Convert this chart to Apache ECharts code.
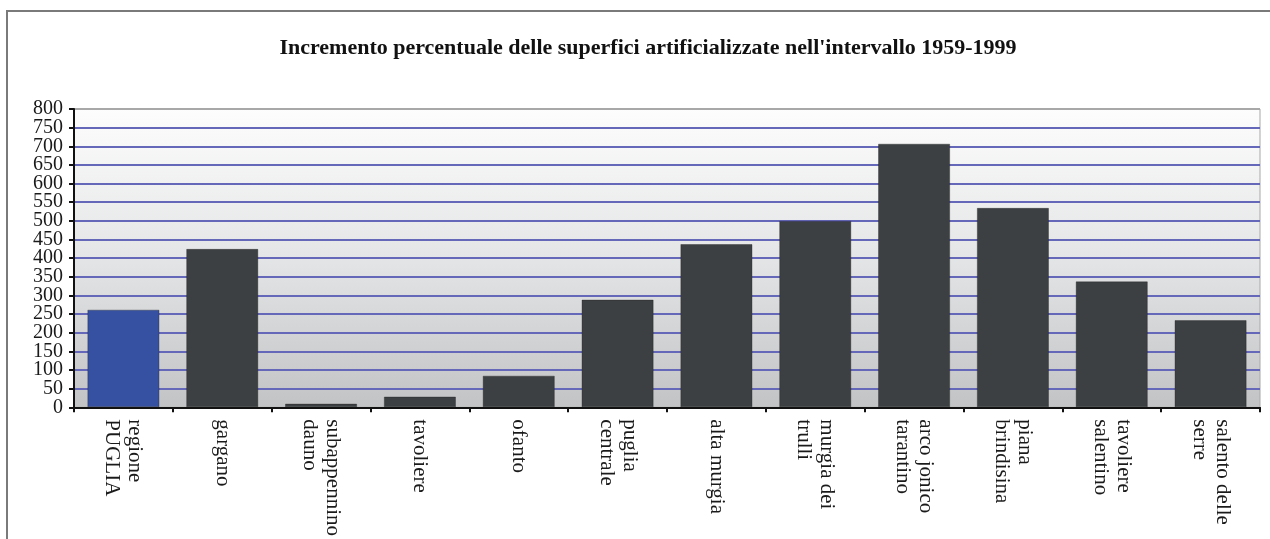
<!DOCTYPE html>
<html>
<head>
<meta charset="utf-8">
<script src="https://cdn.jsdelivr.net/npm/echarts@6/dist/echarts.min.js"></script>
<style>
  html, body { margin: 0; padding: 0; background: #ffffff; }
  #chart { width: 1270px; height: 539px; }
</style>
</head>
<body>
<div id="chart"></div>
<script>
// Areas of Puglia (regional total first)
const categories = [
  'regione\nPUGLIA', 'gargano', 'subappennino\ndauno', 'tavoliere', 'ofanto',
  'puglia\ncentrale', 'alta murgia', 'murgia dei\ntrulli', 'arco jonico\ntarantino',
  'piana\nbrindisina', 'tavoliere\nsalentino', 'salento delle\nserre'
];
// Percentage increase of artificial surfaces, 1959-1999
const increments = [262, 425, 10, 29, 85, 289, 438, 500, 707, 535, 338, 234];
const yTicks = [0, 50, 100, 150, 200, 250, 300, 350, 400, 450, 500, 550, 600, 650, 700, 750, 800];
const titleText = "Incremento percentuale delle superfici artificializzate nell'intervallo 1959-1999";

const SERIF = "'Liberation Serif', 'DejaVu Serif', serif";
const BLUE = '#3651a1';
const DARK = '#3d4043';
const GRID_BLUE = '#6567b9';

// Split lines: blue for every step, grey border colour at the top (800)
const splitColors = yTicks.map((v, i) => (i === yTicks.length - 1 ? '#a8a8a8' : GRID_BLUE));

// The tick labels sit closer together than their height, so they are split
// over two overlaid axes (even and odd steps) to keep every one visible.
const evenTicks = yTicks.filter((v, i) => i % 2 === 0);
const oddTicks = yTicks.filter((v, i) => i % 2 === 1);

const labelStyle = {
  margin: 11,
  fontFamily: SERIF,
  fontSize: 20,
  color: '#1a1a1a'
};

const chart = echarts.init(document.getElementById('chart'), null, { renderer: 'canvas' });

chart.setOption({
  backgroundColor: '#ffffff',
  animation: false,
  title: {
    text: titleText,
    left: 643,
    top: 32,
    textAlign: 'center',
    textStyle: { fontFamily: SERIF, fontSize: 22, fontWeight: 'bold', color: '#111' }
  },
  graphic: [
    {
      type: 'rect',
      shape: { x: 7, y: 11, width: 1300, height: 600 },
      style: { fill: 'none', stroke: '#7a7a7a', lineWidth: 2 },
      silent: true,
      z: -10
    }
  ],
  grid: {
    left: 74,
    right: 10,
    top: 109,
    bottom: 129,
    show: true,
    borderColor: '#a8a8a8',
    borderWidth: 1,
    backgroundColor: {
      type: 'linear', x: 0, y: 0, x2: 0, y2: 1,
      colorStops: [
        { offset: 0, color: '#fdfdfd' },
        { offset: 0.5, color: '#e4e5e6' },
        { offset: 1, color: '#c2c3c4' }
      ]
    }
  },
  xAxis: {
    type: 'category',
    data: categories,
    boundaryGap: true,
    axisLine: { lineStyle: { color: '#111', width: 2 } },
    axisTick: { show: true, inside: false, length: 5, lineStyle: { color: '#111', width: 2 } },
    axisLabel: {
      interval: 0,
      rotate: -90,
      margin: 12,
      fontFamily: SERIF,
      fontSize: 21,
      lineHeight: 23,
      color: '#1a1a1a'
    },
    splitLine: { show: false }
  },
  yAxis: [
    {
      type: 'value',
      position: 'left',
      min: 0,
      max: 800,
      interval: 50,
      axisLine: { show: true, lineStyle: { color: '#111', width: 2 } },
      axisTick: { show: true, inside: false, length: 5, lineStyle: { color: '#111', width: 2 } },
      axisLabel: Object.assign({}, labelStyle, {
        showMinLabel: true,
        showMaxLabel: true,
        formatter: v => (evenTicks.indexOf(v) >= 0 ? String(v) : '')
      }),
      splitLine: { show: true, lineStyle: { color: splitColors, width: 2 } }
    },
    {
      type: 'value',
      position: 'left',
      offset: 0,
      min: 0,
      max: 800,
      interval: 50,
      axisLine: { show: false },
      axisTick: { show: false },
      axisLabel: Object.assign({}, labelStyle, {
        formatter: v => (oddTicks.indexOf(v) >= 0 ? String(v) : '')
      }),
      splitLine: { show: false }
    }
  ],
  series: [
    {
      type: 'bar',
      yAxisIndex: 0,
      data: increments.map((v, i) => ({
        value: v,
        itemStyle: { color: i === 0 ? BLUE : DARK }
      })),
      barCategoryGap: '27%',
      itemStyle: { borderColor: 'rgba(30,30,30,0.35)', borderWidth: 1 }
    }
  ]
});
</script>
</body>
</html>
